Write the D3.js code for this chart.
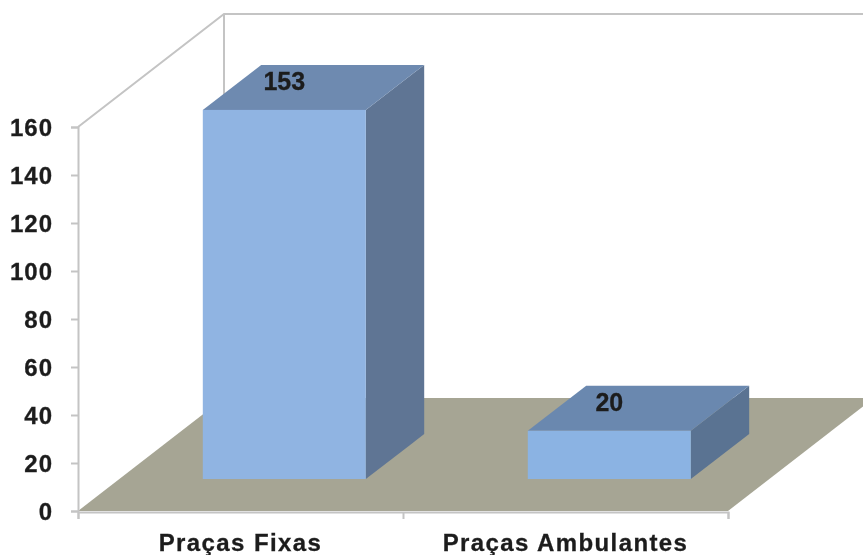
<!DOCTYPE html>
<html><head><meta charset="utf-8">
<script src="https://cdn.jsdelivr.net/npm/d3@7/dist/d3.min.js"></script>
<style>html,body{margin:0;padding:0;background:#fff;overflow:hidden}svg{display:block}
text{font-family:"Liberation Sans",Arial,sans-serif;font-weight:700;fill:#1c1c1c;stroke:#1c1c1c;stroke-width:0.3px}</style>
</head><body><svg id="c" width="863" height="555"></svg>
<script>
const categories = ["Praças Fixas", "Praças Ambulantes"];
const values = [153, 20];
const yTicks = [0, 20, 40, 60, 80, 100, 120, 140, 160];
const frontColors = ["#90B4E2", "#8BB3E3"];
const topColors = ["#6E8AB0", "#6B88AF"];
const sideColors = ["#5F7594", "#5A7392"];

const svg = d3.select("#c");
svg.append("defs").append("filter").attr("id","soft")
  .append("feGaussianBlur").attr("stdDeviation",0.45);
const g = svg.append("g").attr("filter","url(#soft)");

const x = d3.scaleBand().domain(categories).range([78,728]);
const y = d3.scaleLinear().domain([0,160]).range([511,127]);
const barH = d3.scaleLinear().domain([0,160]).range([0,386]);
const depthX = d3.scaleLinear().domain([0,1]).range([0,146]);
const depthY = d3.scaleLinear().domain([0,1]).range([0,-113]);
const P = (px,val,d)=>[px+depthX(d), y(val)+depthY(d)];
const poly = pts => d3.line()(pts)+"Z";
const grid = "#C4C4C4";

// walls
const wall = d3.line();
g.append("path").attr("fill","none").attr("stroke",grid).attr("stroke-width",2)
 .attr("d", wall([P(78,160,0),P(78,160,1),[863,P(78,160,1)[1]]]));
g.append("path").attr("fill","none").attr("stroke",grid).attr("stroke-width",2)
 .attr("d", wall([P(78,160,1),P(78,0,1)]));

// floor
g.append("path").attr("fill","#A6A594")
 .attr("d",poly([P(78,0,0),P(728,0,0),P(728,0,1),P(78,0,1)]));

// axes
const yAxis = d3.axisLeft(y).tickValues(yTicks).tickSize(7).tickPadding(18).tickFormat(d3.format("d"));
const ya = g.append("g").attr("transform","translate(78,0)").call(yAxis);
ya.selectAll("path,line").attr("stroke",grid).attr("stroke-width",2);
ya.selectAll("text").attr("font-size",24).attr("fill","#1c1c1c").style("letter-spacing","1px")
  .attr("font-family","Liberation Sans").attr("font-weight",700).attr("dy","0.34em");

const edges = [78,403,728];
const xAxis = d3.axisBottom(d3.scaleLinear().domain([78,728]).range([78,728])).tickValues(edges).tickSize(7).tickFormat("");
const xa = g.append("g").attr("transform","translate(0,512)").call(xAxis);
xa.selectAll("path,line").attr("stroke",grid).attr("stroke-width",2);

// bars
const bw = 163, d0x = 0.3, d1x = 0.7, d0y = 0.283, d1y = 0.681;
categories.forEach((c,i)=>{
  const l = x(c)+(x.bandwidth()-bw)/2 + depthX(d0x), r = l+bw, v = values[i];
  const base = y(0)+depthY(d0y), top = base-barH(v);
  const dx = depthX(d1x)-depthX(d0x), dy = depthY(d1y)-depthY(d0y);
  g.append("path").attr("fill",sideColors[i]).attr("d",poly([[r,base],[r+dx,base+dy],[r+dx,top+dy],[r,top]]));
  g.append("path").attr("fill",topColors[i]).attr("d",poly([[l,top],[r,top],[r+dx,top+dy],[l+dx,top+dy]]));
  g.append("rect").attr("x",l).attr("y",top).attr("width",bw).attr("height",base-top).attr("fill",frontColors[i]);
  g.append("text").attr("x",l+bw/2).attr("y",top-19.5).attr("text-anchor","middle").attr("font-size",25).text(v);
});

// category labels
g.selectAll(".cat").data(categories).join("text").attr("class","cat")
 .attr("x",d=>x(d)+x.bandwidth()/2).attr("y",551).attr("text-anchor","middle")
 .attr("font-size",24).style("letter-spacing","1.4px").text(d=>d);
</script></body></html>
